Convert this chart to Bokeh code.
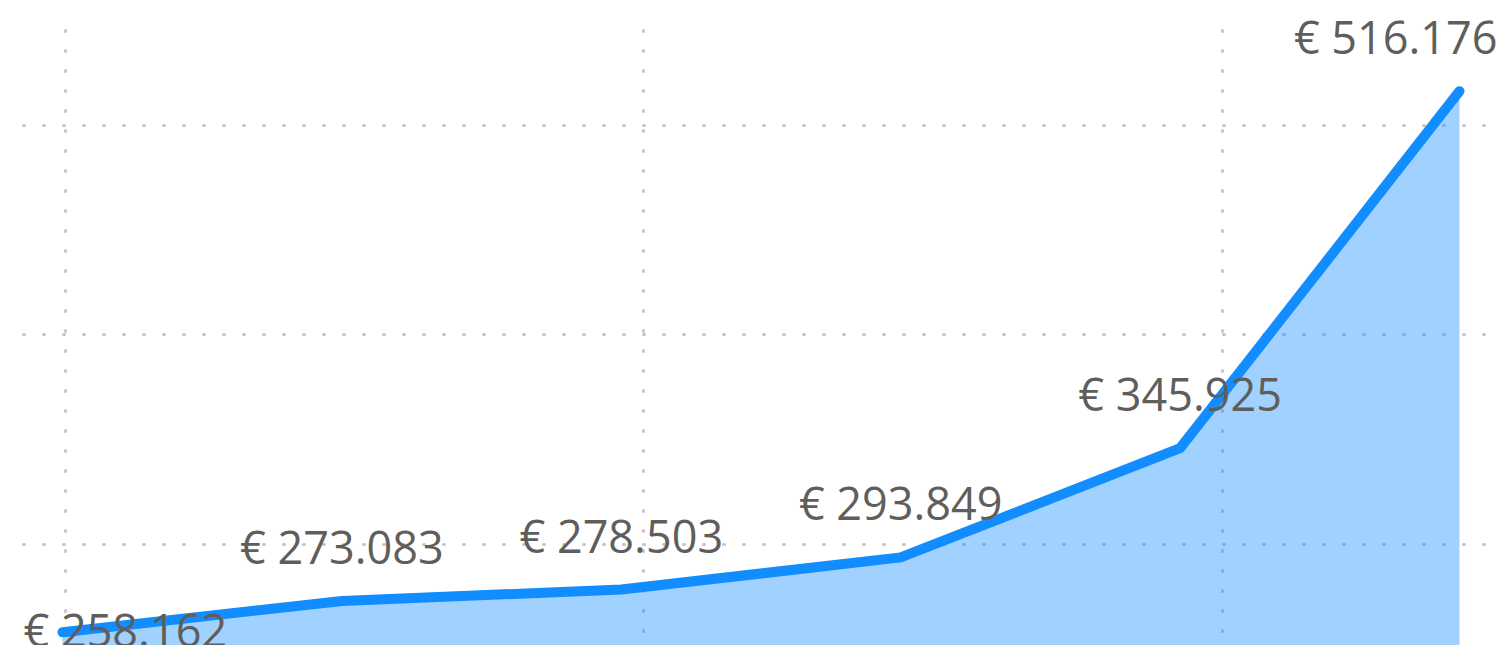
from bokeh.plotting import figure
from bokeh.models import ColumnDataSource, Range1d, Grid, FixedTicker, LabelSet
from bokeh.core.properties import value
from bokeh.embed import file_html
from bokeh.resources import INLINE

# ---- data ----
x_index = [0, 1, 2, 3, 4, 5]
values = [258162, 273083, 278503, 293849, 345925, 516176]
y_grid_ticks = [300000, 400000, 500000]
x_grid_ticks = [0.011, 2.079, 4.152]

LINE = "#118DFF"
TEXT = "#605E5C"
GRID = "#C8C6C4"

labels = ["€ " + f"{v:,}".replace(",", ".") for v in values]

n = len(values)
aligns, xoffs, yoffs = [], [], []
for i in range(n):
    if i == 0:
        aligns.append("left"); xoffs.append(-39); yoffs.append(-15)
    elif i == n - 1:
        aligns.append("right"); xoffs.append(38); yoffs.append(37)
    else:
        aligns.append("center"); xoffs.append(0); yoffs.append(37)

src = ColumnDataSource(dict(x=x_index, y=values, base=[0] * n))
lab_src = ColumnDataSource(dict(x=x_index, y=values, text=labels,
                                align=aligns, xo=xoffs, yo=yoffs))

p = figure(width=1506, height=645, output_backend="svg", toolbar_location=None,
           x_axis_location=None, y_axis_location=None,
           x_range=Range1d(-0.2219, 5.1682), y_range=Range1d(251836, 559418),
           min_border_left=0, min_border_right=0, min_border_top=0,
           min_border_bottom=0)
p.outline_line_color = None
p.background_fill_color = "white"
p.border_fill_color = "white"
p.center = [r for r in p.center if not isinstance(r, Grid)]

grid_cross = {0: (251836, 545112), 1: (-0.1396, 5.0894)}
for dim, ticks in ((0, x_grid_ticks), (1, y_grid_ticks)):
    g = Grid(dimension=dim, ticker=FixedTicker(ticks=ticks),
             cross_bounds=grid_cross[dim])
    g.grid_line_color = GRID
    g.grid_line_width = 3
    g.grid_line_dash = "1 19"
    g.grid_line_cap = "round"
    if dim == 0:
        g.grid_line_dash_offset = 6
    p.add_layout(g)

p.varea(x="x", y1="base", y2="y", source=src, fill_color=LINE, fill_alpha=0.4)
p.line(x="x", y="y", source=src, line_color=LINE, line_width=10,
       line_cap="round", line_join="round")

ls = LabelSet(x="x", y="y", text="text", source=lab_src,
              text_align="align", x_offset="xo", y_offset="yo",
              text_baseline="alphabetic", text_color=TEXT,
              text_font=value("Open Sans"), text_font_size="45px")
p.add_layout(ls)

open("out.html", "w").write(file_html(p, INLINE))
